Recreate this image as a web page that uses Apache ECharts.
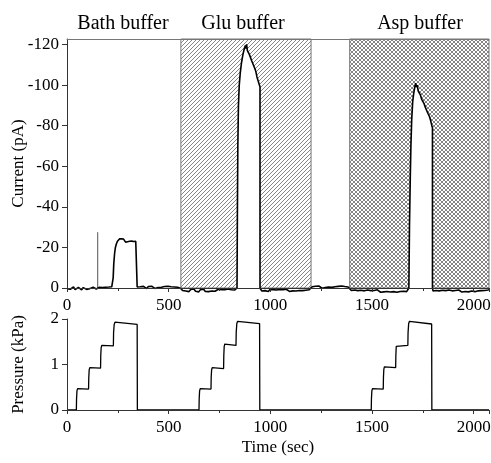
<!DOCTYPE html>
<html>
<head>
<meta charset="utf-8">
<script src="https://cdn.jsdelivr.net/npm/echarts@6/dist/echarts.min.js"></script>
<style>html,body{margin:0;padding:0;background:#fff}#c{width:491px;height:463px}</style>
</head>
<body>
<div id="c"></div>
<script>
// ---- data (time in s, current in pA, pressure in kPa) ----
const xTicks = [0, 500, 1000, 1500, 2000];
const currentTicks = [-120, -100, -80, -60, -40, -20, 0];
const pressureTicks = [0, 1, 2];
const regionTitles = ['Bath buffer', 'Glu buffer', 'Asp buffer'];
const gluRegion = [560, 1200];
const aspRegion = [1390, 2075];

const bathBaseline1 = [[0,0.3],[8,-0.4],[16,0.6],[24,0.1],[32,-0.5],[40,0.8],[48,0.2],[56,-0.3],[64,0.5],[72,0.9],[80,-0.2],[88,0.4],[96,0.7],[104,-0.1],[112,0.3],[120,0.6],[128,-0.4],[136,0.2],[144,0.5],[150,0.1],
  [158,-0.3],[166,-0.8],[174,-0.2],[182,-1.0],[190,-0.4],[198,-0.9],[206,-0.5],[214,-1.1],[220,-0.6],[225,-0.8]];
const spike = [[151,0],[151,-27.5]];
const bathStep = [[227,-5],[230,-12],[234,-17],[238,-20],[243,-21.8],[248,-23],[253,-23.6],[258,-24.2],[263,-23.5],[268,-24.3],[273,-23.8],[278,-24.1],[283,-23.2],[288,-22.6],[293,-23.3],[298,-22.8],[303,-23.4],[308,-23],[313,-23.6],[318,-23.1],[323,-23.5],[328,-22.9],[333,-23.4],[338,-23],[344,-23.2],[345,-0.5]];
const midBaseline1 = [[352,0.2],[360,-0.6],[368,0.1],[376,-0.8],[384,-0.2],[392,0.3],[400,-0.7],[408,-0.1],[416,-0.9],[424,-0.3],[432,0.2],[440,-0.6],[448,-0.2],[456,-1.0],[464,-0.4],[472,0.1],[480,-0.7],[488,-0.3],[496,-0.9],[504,-0.2],[512,-0.6],[520,0.1],[528,-0.5],[536,-1.1],[544,-0.4],[552,-0.8],[560,0.2]];
const gluBaseline1 = [[568,1.2],[576,0.6],[584,1.5],[592,0.9],[600,1.8],[608,0.7],[616,1.3],[624,0.5],[632,1.6],[640,1.0],[648,1.9],[656,0.8],[664,1.4],[672,0.6],[680,1.7],[688,1.1],[696,1.8],[704,0.9],[712,1.5],[720,0.7],[728,1.6],[736,1.2],[744,0.6],[752,1.4],[760,0.9],[768,1.7],[776,0.8],[784,1.3],[792,0.5],[800,1.4],[808,0.9],[816,1.6],[824,1.0],[832,0.6]];
const gluPeak = [[836,0],[838,-40],[840,-70],[843,-90],[847,-100],[852,-106],[858,-111],[865,-115],[872,-118],[877,-119.5],[880,-118],[883,-120],[887,-117],[892,-117.5],[897,-115],[902,-114.5],[908,-112],[914,-111.5],[920,-109],[926,-107.5],[930,-106],[934,-104],[940,-102],[946,-100],[949,-99],[949,0]];
const gluBaseline2 = [[951,0.8],[958,1.5],[966,0.6],[974,1.3],[982,0.9],[990,1.7],[998,0.7],[1006,1.4],[1014,0.8],[1022,1.6],[1030,1.0],[1038,1.8],[1046,0.7],[1054,1.3],[1062,0.9],[1070,1.6],[1078,0.6],[1086,1.2],[1094,1.7],[1102,0.8],[1110,1.4],[1118,0.6],[1126,1.5],[1134,0.9],[1142,1.2],[1150,0.5],[1158,1.3],[1166,0.7],[1174,1.1],[1182,0.4],[1190,0.9],[1198,0.2]];
const midBaseline2 = [[1206,-0.6],[1214,-0.1],[1222,-0.9],[1230,-0.3],[1238,-1.0],[1246,-0.4],[1254,0.1],[1262,-0.7],[1270,-0.2],[1278,-1.1],[1286,-0.5],[1294,-0.9],[1302,-0.3],[1310,-1.2],[1318,-0.6],[1326,-0.1],[1334,-0.8],[1342,-0.4],[1350,-1.0],[1358,-0.3],[1366,-0.7],[1374,0.0],[1382,-0.5],[1390,0.3]];
const aspBaseline1 = [[1398,1.2],[1406,2.0],[1414,1.0],[1422,1.8],[1430,1.3],[1438,2.2],[1446,1.1],[1454,1.9],[1462,1.4],[1470,2.1],[1478,1.0],[1486,1.7],[1494,1.3],[1502,2.0],[1510,1.2],[1518,1.8],[1526,0.9],[1534,1.6],[1542,2.1],[1550,1.2],[1558,1.9],[1566,1.0],[1574,1.7],[1582,1.3],[1590,2.0],[1598,1.1],[1606,1.8],[1614,1.4],[1622,2.1],[1630,1.2],[1638,1.7],[1646,1.0],[1654,1.6],[1662,1.2],[1670,1.8],[1678,1.1]];
const aspPeak = [[1681,0],[1684,-30],[1688,-55],[1691,-70],[1695,-83],[1700,-92],[1705,-96],[1710,-99],[1714,-101],[1718,-99],[1722,-100],[1727,-97],[1732,-96.5],[1738,-95],[1744,-93],[1748,-93.5],[1755,-91],[1762,-89],[1768,-88.5],[1775,-86],[1782,-84.5],[1788,-82.5],[1794,-80],[1797,-79],[1797,0]];
const aspBaseline2 = [[1800,1.5],[1806,2.1],[1814,1.2],[1822,1.9],[1830,1.4],[1838,2.2],[1846,1.1],[1854,1.8],[1862,1.3],[1870,2.0],[1878,1.0],[1886,1.7],[1894,1.4],[1902,2.1],[1910,1.2],[1918,1.8],[1926,1.0],[1934,1.6],[1942,2.0],[1950,1.1],[1958,1.7],[1966,1.3],[1974,1.9],[1982,1.0],[1990,1.5],[1998,1.2],[2006,1.8],[2014,1.0],[2022,1.4],[2030,0.8],[2038,1.3],[2046,0.7],[2054,1.2],[2062,0.6],[2070,1.0],[2075,0.8]];

const pressure1 = [[0,0],[46,0],[47,0.25],[49,0.42],[52,0.47],[106,0.46],[107,0.7],[109,0.88],[112,0.93],[165,0.92],[166,1.2],[168,1.37],[171,1.42],[228,1.41],[229,1.7],[232,1.88],[236,1.93],[345,1.88],[346,0]];
const pressure2 = [[649,0],[650,0.25],[652,0.42],[655,0.47],[708,0.46],[709,0.72],[711,0.88],[714,0.93],[770,0.91],[771,1.2],[773,1.4],[776,1.45],[831,1.42],[832,1.7],[835,1.9],[839,1.95],[947,1.9],[948,0]];
const pressure3 = [[1496,0],[1497,0.25],[1499,0.42],[1502,0.47],[1555,0.46],[1556,0.72],[1558,0.9],[1561,0.95],[1616,0.93],[1617,1.2],[1619,1.4],[1622,1.44],[1676,1.42],[1677,1.7],[1680,1.9],[1684,1.95],[1793,1.89],[1794,0],[2075,0]];

// ---- build ----
const currentTrace = [].concat(bathBaseline1, bathStep, midBaseline1, gluBaseline1, gluPeak, gluBaseline2, midBaseline2, aspBaseline1, aspPeak, aspBaseline2);
const peakFill = [].concat(gluPeak, [[949, null]], aspPeak);
const pressureTrace = [].concat(pressure1, pressure2, pressure3);

function makePattern(size, draw) {
  const c = document.createElement('canvas');
  c.width = c.height = size;
  const g = c.getContext('2d');
  g.fillStyle = '#fff'; g.fillRect(0, 0, size, size);
  g.strokeStyle = '#666'; g.lineWidth = 0.8;
  draw(g, size);
  return c;
}
const diagPattern = makePattern(8, (g, s) => {
  for (let c = -8; c <= 24; c += 4) { g.beginPath(); g.moveTo(c + 2, -2); g.lineTo(c - 10, 10); g.stroke(); }
});
const crossPattern = makePattern(8, (g, s) => {
  for (let c = -8; c <= 16; c += 4) {
    g.beginPath(); g.moveTo(c + 2, -2); g.lineTo(c - 10, 10); g.stroke();
    g.beginPath(); g.moveTo(c - 2, -2); g.lineTo(c + 10, 10); g.stroke();
  }
});

const FONT = '"Liberation Serif", "Times New Roman", serif';
const axisLineStyle = { color: '#333', width: 1 };
const labelStyle = { fontFamily: FONT, fontSize: 17, color: '#000', formatter: v => String(v) };

const chart = echarts.init(document.getElementById('c'), null, { renderer: 'canvas' });
chart.setOption({
  animation: false,
  backgroundColor: '#fff',
  grid: [
    { left: 67, top: 39, width: 422, height: 249, containLabel: false, outerBoundsMode: 'none' },
    { left: 67, top: 319, width: 422, height: 91, containLabel: false, outerBoundsMode: 'none' }
  ],
  xAxis: [
    { type: 'value', gridIndex: 0, min: 0, max: 2075, interval: 500, position: 'bottom', z: 10,
      axisLine: { onZero: false, lineStyle: axisLineStyle },
      axisTick: { show: true, inside: false, length: 4, lineStyle: axisLineStyle },
      minorTick: { show: true, splitNumber: 2, length: 3, lineStyle: axisLineStyle },
      axisLabel: Object.assign({ margin: 9, showMaxLabel: false }, labelStyle),
      splitLine: { show: false }, minorSplitLine: { show: false } },
    { type: 'value', gridIndex: 0, min: 0, max: 2075, position: 'top', z: 10,
      axisLine: { onZero: false, lineStyle: { color: '#777', width: 1 } },
      axisTick: { show: false }, axisLabel: { show: false }, splitLine: { show: false } },
    { type: 'value', gridIndex: 1, min: 0, max: 2075, interval: 500, position: 'bottom', z: 10,
      name: 'Time (sec)', nameLocation: 'middle', nameGap: 29, nameMoveOverlap: false,
      nameTextStyle: { fontFamily: FONT, fontSize: 17, color: '#000' },
      axisLine: { onZero: false, lineStyle: axisLineStyle },
      axisTick: { show: true, inside: false, length: 4, lineStyle: axisLineStyle },
      minorTick: { show: true, splitNumber: 2, length: 3, lineStyle: axisLineStyle },
      axisLabel: Object.assign({ margin: 9, showMaxLabel: false }, labelStyle),
      splitLine: { show: false }, minorSplitLine: { show: false } }
  ],
  yAxis: [
    { type: 'value', gridIndex: 0, min: -122.7, max: 0, inverse: true, z: 10,
      name: 'Current (pA)', nameLocation: 'middle', nameGap: 40, nameRotate: 90, nameMoveOverlap: false,
      nameTextStyle: { fontFamily: FONT, fontSize: 17, color: '#000' },
      axisLine: { show: true, onZero: false, lineStyle: axisLineStyle },
      axisTick: { show: true, inside: false, length: 5, lineStyle: axisLineStyle, customValues: currentTicks },
      axisLabel: Object.assign({ margin: 8, customValues: currentTicks }, labelStyle),
      splitLine: { show: false } },
    { type: 'value', gridIndex: 1, min: 0, max: 2, interval: 1, z: 10,
      name: 'Pressure (kPa)', nameLocation: 'middle', nameGap: 40, nameRotate: 90, nameMoveOverlap: false,
      nameTextStyle: { fontFamily: FONT, fontSize: 17, color: '#000' },
      axisLine: { show: true, onZero: false, lineStyle: axisLineStyle },
      axisTick: { show: true, inside: false, length: 5, lineStyle: axisLineStyle },
      axisLabel: Object.assign({ margin: 8 }, labelStyle),
      splitLine: { show: false } }
  ],
  graphic: [
    { type: 'text', x: 123, y: 24, style: { text: regionTitles[0], font: '20px ' + FONT, fill: '#000', textAlign: 'center', textVerticalAlign: 'middle', align: 'center', verticalAlign: 'middle' } },
    { type: 'text', x: 243, y: 24, style: { text: regionTitles[1], font: '20px ' + FONT, fill: '#000', textAlign: 'center', textVerticalAlign: 'middle', align: 'center', verticalAlign: 'middle' } },
    { type: 'text', x: 420, y: 24, style: { text: regionTitles[2], font: '20px ' + FONT, fill: '#000', textAlign: 'center', textVerticalAlign: 'middle', align: 'center', verticalAlign: 'middle' } }
  ],
  series: [
    { type: 'line', xAxisIndex: 0, yAxisIndex: 0, data: [], z: 1, silent: true,
      markArea: { silent: true,
        data: [
          [{ xAxis: gluRegion[0], itemStyle: { color: { image: diagPattern, repeat: 'repeat' }, borderColor: '#777', borderWidth: 1 } }, { xAxis: gluRegion[1] }],
          [{ xAxis: aspRegion[0], itemStyle: { color: { image: crossPattern, repeat: 'repeat' }, borderColor: '#777', borderWidth: 1 } }, { xAxis: aspRegion[1] }]
        ] } },
    { type: 'line', xAxisIndex: 0, yAxisIndex: 0, data: peakFill, z: 2, symbol: 'none', silent: true,
      connectNulls: false, lineStyle: { width: 0, opacity: 0 }, areaStyle: { color: '#fff', opacity: 1, origin: 0 } },
    { type: 'line', xAxisIndex: 0, yAxisIndex: 0, data: spike, z: 3, symbol: 'none', silent: true,
      lineStyle: { color: '#555', width: 1 } },
    { type: 'line', xAxisIndex: 0, yAxisIndex: 0, data: currentTrace, z: 4, symbol: 'none', silent: true, clip: false,
      lineStyle: { color: '#000', width: 1.6 } },
    { type: 'line', xAxisIndex: 2, yAxisIndex: 1, data: pressureTrace, z: 4, symbol: 'none', silent: true, clip: false,
      lineStyle: { color: '#000', width: 1.3 } }
  ]
});
</script>
</body>
</html>
